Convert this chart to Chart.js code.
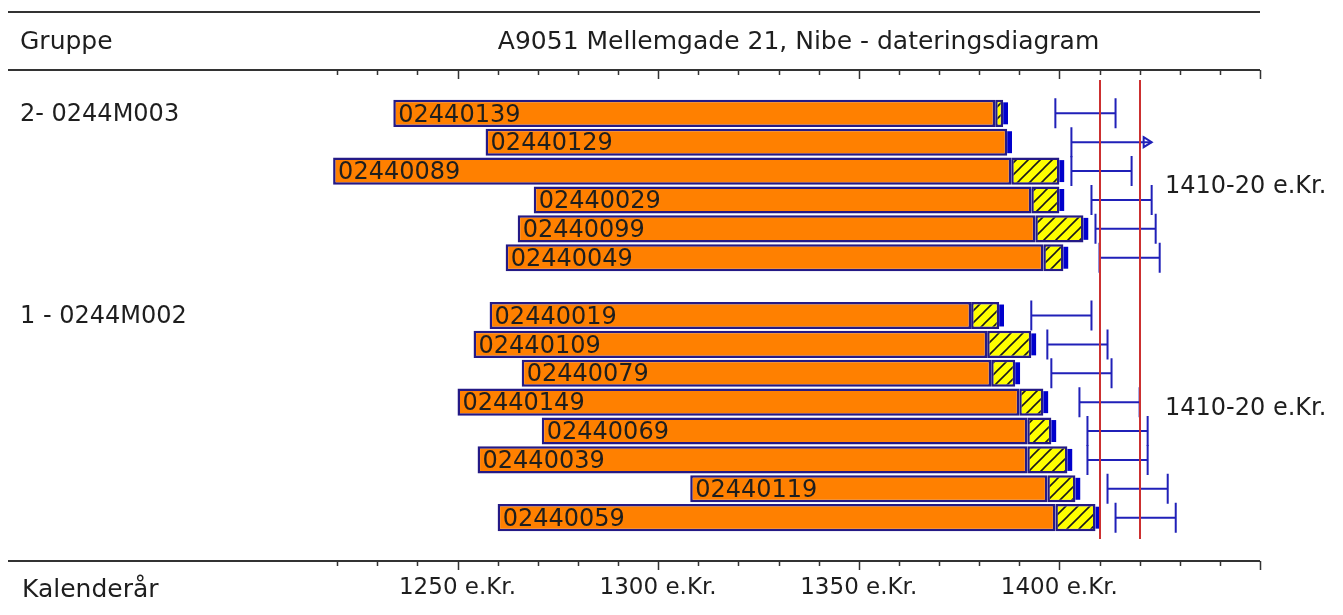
<!DOCTYPE html>
<html>
<head>
<meta charset="utf-8">
<script src="https://cdn.jsdelivr.net/npm/chart.js@4.4.0/dist/chart.umd.min.js"></script>
<style>
html, body { margin: 0; padding: 0; background: #fff; }
</style>
</head>
<body>
<canvas id="dateringsdiagram" width="1343" height="615"></canvas>
<script>
// diagrammets data
const titel = 'A9051 Mellemgade 21, Nibe - dateringsdiagram';
const grupper = ['2- 0244M003', '1 - 0244M002'];
const gruppeStart = ['02440139', '02440019'];
const proever = ['', '02440139', '02440129', '02440089', '02440029', '02440099', '02440049',
                 ' ', '02440019', '02440109', '02440079', '02440149', '02440069', '02440039', '02440119', '02440059', '  '];
const startAar   = [null, 1234, 1257, 1219, 1269, 1265, 1262, null, 1258, 1254, 1266, 1250, 1271, 1255, 1308, 1260, null];
const kerneSlut  = [null, 1384, 1387, 1388, 1393, 1394, 1396, null, 1378, 1382, 1383, 1390, 1392, 1392, 1397, 1399, null];
const splintSlut = [null, 1386, null, 1400, 1400, 1406, 1401, null, 1385, 1393, 1389, 1396, 1398, 1402, 1404, 1409, null];
const faeldFra   = [null, 1399, 1403, 1403, 1408, 1409, 1410, null, 1393, 1397, 1398, 1405, 1407, 1407, 1412, 1414, null];
const faeldTil   = [null, 1414, 1423, 1418, 1423, 1424, 1425, null, 1408, 1412, 1413, 1420, 1422, 1422, 1427, 1429, null];
const aabenSlut  = [false, false, true, false, false, false, false, false, false, false, false, false, false, false, false, false, false];
const datering = [1410, 1420];
const dateringTekst = '1410-20 e.Kr.';
const aarTekster = [1250, 1300, 1350, 1400];
const aksePil = [1220, 1450];

const kerneData = startAar.map((s, i) => s === null ? null : [s, kerneSlut[i]]);
const splintData = splintSlut.map((s, i) => s === null ? null : [kerneSlut[i], s]);
const markData = kerneSlut.map((k, i) => {
    if (k === null) return null;
    const sidste = splintSlut[i] !== null ? splintSlut[i] : k;
    return [sidste, sidste + 1.2];
});

const canvas = document.getElementById('dateringsdiagram');
const ctx = canvas.getContext('2d');

function lavSkravering() {
    const c = document.createElement('canvas');
    c.width = 12; c.height = 12;
    const g = c.getContext('2d');
    g.fillStyle = '#FFFF00';
    g.fillRect(0, 0, 12, 12);
    g.strokeStyle = '#1a1a1a';
    g.lineWidth = 1.6;
    g.beginPath();
    g.moveTo(0, 12); g.lineTo(12, 0);
    g.moveTo(-3, 3); g.lineTo(3, -3);
    g.moveTo(9, 15); g.lineTo(15, 9);
    g.stroke();
    return ctx.createPattern(c, 'repeat');
}

const tekstFarve = '#1e1e1e';
const sansFont = '"DejaVu Sans", Verdana, sans-serif';

const tegner = {
    id: 'tegner',
    beforeDraw(chart) {
        const c = chart.ctx;
        c.save();
        c.fillStyle = '#fff';
        c.fillRect(0, 0, chart.width, chart.height);
        c.restore();
    },
    afterDatasetsDraw(chart) {
        const c = chart.ctx;
        const x = chart.scales.x;
        const y = chart.scales.y;
        const area = chart.chartArea;
        const venstre = 8;
        const hoejre = x.getPixelForValue(aksePil[1]);
        c.save();

        // prøvenumre i søjlerne
        c.font = '24px ' + sansFont;
        c.fillStyle = tekstFarve;
        c.textBaseline = 'middle';
        c.textAlign = 'left';
        proever.forEach((p, i) => {
            if (startAar[i] === null) return;
            c.fillText(p, x.getPixelForValue(startAar[i]) + 5, y.getPixelForValue(i) + 2);
        });

        // fældningsintervaller
        c.strokeStyle = '#2020b8';
        c.lineWidth = 2;
        proever.forEach((p, i) => {
            if (faeldFra[i] === null) return;
            const yy = y.getPixelForValue(i);
            const x1 = x.getPixelForValue(faeldFra[i]);
            const x2 = x.getPixelForValue(faeldTil[i]);
            c.beginPath();
            c.moveTo(x1, yy); c.lineTo(x2, yy);
            c.moveTo(x1, yy - 15); c.lineTo(x1, yy + 15);
            if (!aabenSlut[i]) {
                c.moveTo(x2, yy - 15); c.lineTo(x2, yy + 15);
            }
            c.stroke();
            if (aabenSlut[i]) {
                c.beginPath();
                c.moveTo(x2 - 8, yy - 5);
                c.lineTo(x2, yy);
                c.lineTo(x2 - 8, yy + 5);
                c.closePath();
                c.stroke();
            }
        });

        // dateringslinjer
        c.strokeStyle = '#cc3030';
        c.lineWidth = 2;
        datering.forEach(a => {
            const xx = Math.round(x.getPixelForValue(a));
            c.beginPath();
            c.moveTo(xx, area.top + 10);
            c.lineTo(xx, area.bottom - 22);
            c.stroke();
        });

        // akselinjer
        c.strokeStyle = '#333';
        c.lineWidth = 2;
        [12, area.top, area.bottom].forEach(ly => {
            c.beginPath();
            c.moveTo(venstre, ly); c.lineTo(hoejre, ly);
            c.stroke();
        });

        // streger på akserne
        c.lineWidth = 1.5;
        for (let a = aksePil[0]; a <= aksePil[1]; a += 10) {
            const xx = Math.round(x.getPixelForValue(a)) + 0.5;
            const lang = (a % 50 === 0) ? 9 : 5;
            c.beginPath();
            c.moveTo(xx, area.top); c.lineTo(xx, area.top + lang);
            c.moveTo(xx, area.bottom); c.lineTo(xx, area.bottom + lang);
            c.stroke();
        }

        // overskrifter
        c.fillStyle = tekstFarve;
        c.font = '25px ' + sansFont;
        c.textBaseline = 'middle';
        c.textAlign = 'left';
        c.fillText('Gruppe', 20, 42);
        c.fillText('Kalenderår', 22, 590);
        c.textAlign = 'center';
        const midt = (x.getPixelForValue(aksePil[0]) + hoejre) / 2;
        c.fillText(titel, midt, 42);

        c.font = '23px ' + sansFont;
        aarTekster.forEach(a => {
            c.fillText(a + ' e.Kr.', x.getPixelForValue(a), 588);
        });

        // gruppenavne
        c.font = '24px ' + sansFont;
        c.textAlign = 'left';
        grupper.forEach((g, k) => {
            const i = proever.indexOf(gruppeStart[k]);
            c.fillText(g, 20, y.getPixelForValue(i) + 1);
        });

        // dateringstekst for hver gruppe
        c.fillText(dateringTekst, 1165, y.getPixelForValue(3.5) + 1);
        c.fillText(dateringTekst, 1165, y.getPixelForValue(11.2) + 1);

        c.restore();
    }
};

const kant = '#241a86';

new Chart(ctx, {
    type: 'bar',
    data: {
        labels: proever,
        datasets: [
            {
                label: 'mark',
                data: markData,
                backgroundColor: '#0000cc',
                borderWidth: 0,
                grouped: false,
                barPercentage: 0.76,
                categoryPercentage: 1
            },
            {
                label: 'splint',
                data: splintData,
                backgroundColor: lavSkravering(),
                borderColor: kant,
                borderWidth: 2.5,
                borderSkipped: false,
                grouped: false,
                barPercentage: 0.94,
                categoryPercentage: 1
            },
            {
                label: 'kerne',
                data: kerneData,
                backgroundColor: '#ff8000',
                borderColor: kant,
                borderWidth: 2.5,
                borderSkipped: false,
                grouped: false,
                barPercentage: 0.94,
                categoryPercentage: 1
            }
        ]
    },
    options: {
        indexAxis: 'y',
        responsive: false,
        animation: false,
        layout: { padding: { left: 297, right: 83, top: 70, bottom: 54 } },
        scales: {
            x: { type: 'linear', min: 1210, max: 1450, display: false },
            y: { display: false, offset: true }
        },
        plugins: {
            legend: { display: false },
            tooltip: { enabled: false }
        }
    },
    plugins: [tegner]
});
</script>
</body>
</html>
